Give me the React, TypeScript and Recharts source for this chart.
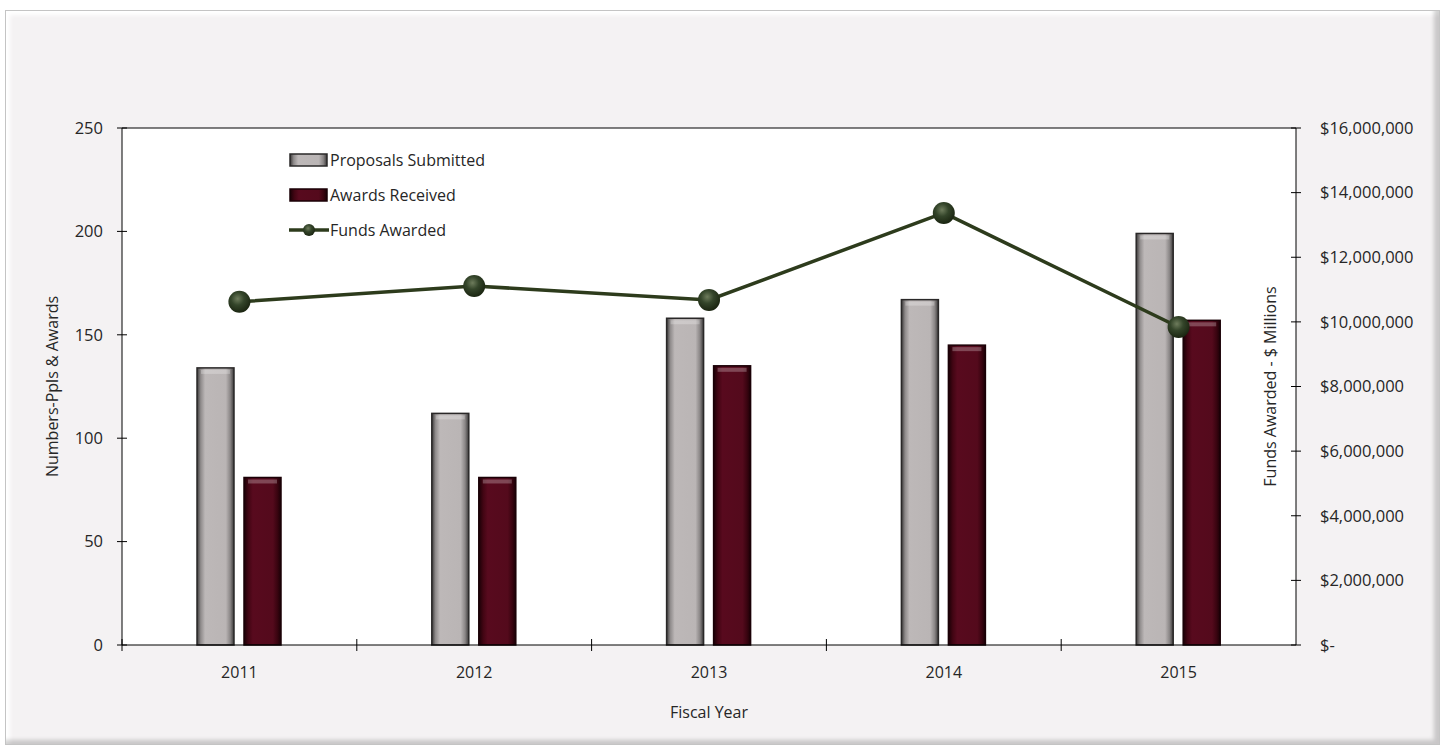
import { ComposedChart, Bar, Line, XAxis, YAxis, CartesianGrid, Legend, ReferenceLine, Label } from 'recharts'

const years = ['2011', '2012', '2013', '2014', '2015']
const proposals = [134, 112, 158, 167, 199]
const awards = [81, 81, 135, 145, 157]
const funds = [10620000, 11110000, 10680000, 13370000, 9840000]
const leftTicks = [0, 50, 100, 150, 200, 250]
const rightTicks = [0, 2000000, 4000000, 6000000, 8000000, 10000000, 12000000, 14000000, 16000000]

const data = years.map((year, i) => ({ year, proposals: proposals[i], awards: awards[i], funds: funds[i] }))

const FONT = '"Open Sans", "Noto Sans", sans-serif'
const TXT = '#262626'
const LINE_COLOR = '#2d3b1c'
const FS = 16

const money = (v: number) => (v === 0 ? '$-' : '$' + v.toLocaleString('en-US'))

const LeftTick = (p: any) => (
  <g>
    <line x1={p.x - 5} x2={p.x + 5} y1={p.y} y2={p.y} stroke="#000" />
    <text x={p.x - 19} y={p.y} dy="0.35em" textAnchor="end" fontFamily={FONT} fontSize={16.5} fill={TXT}>{p.payload.value}</text>
  </g>
)

const RightTick = (p: any) => (
  <g>
    <line x1={p.x - 5} x2={p.x + 5} y1={p.y} y2={p.y} stroke="#000" />
    <text x={p.x + 24} y={p.y} dy="0.35em" textAnchor="start" fontFamily={FONT} fontSize={16.5} fill={TXT}>{money(p.payload.value)}</text>
  </g>
)

const XTick = (p: any) => {
  const edge = p.x - (p.payload.offset || 0)
  return (
    <g>
      <line x1={edge} x2={edge} y1={p.y - 6} y2={p.y + 6} stroke="#000" />
      <text x={p.x} y={p.y + 27} dy="0.35em" textAnchor="middle" fontFamily={FONT} fontSize={FS} fill={TXT}>{p.payload.value}</text>
    </g>
  )
}

const BevelBar = (p: any) => {
  const { x, y, width, height, gradId, edge } = p
  if (!height || height <= 0) return null
  return (
    <g>
      <rect x={x} y={y} width={width} height={height} fill={`url(#${gradId})`} stroke={edge} strokeWidth={1.5} />
      <rect x={x + 4} y={y + 2} width={width - 8} height={4} fill="#fff" opacity={0.25} />
    </g>
  )
}

const legendItems = [
  { name: 'Proposals Submitted', kind: 'bar', fill: 'url(#gGray)', edge: '#2a2828' },
  { name: 'Awards Received', kind: 'bar', fill: 'url(#gRed)', edge: '#1a0006' },
  { name: 'Funds Awarded', kind: 'line', fill: 'url(#gDot)', edge: LINE_COLOR },
]

const ChartLegend = () => (
  <div style={{ fontFamily: FONT, fontSize: FS, color: TXT }}>
    {legendItems.map((it) => (
      <div key={it.name} style={{ display: 'flex', alignItems: 'center', height: 35 }}>
        <svg width={40} height={20} style={{ marginRight: 1 }}>
          {it.kind === 'bar' ? (
            <rect x={1} y={4} width={37} height={12} fill={it.fill} stroke={it.edge} strokeWidth={1.5} />
          ) : (
            <g>
              <line x1={0} x2={40} y1={10} y2={10} stroke={LINE_COLOR} strokeWidth={3.5} />
              <circle cx={20} cy={10} r={6} fill={it.fill} />
            </g>
          )}
        </svg>
        <span>{it.name}</span>
      </div>
    ))}
  </div>
)

export default function App() {
  return (
    <div style={{ position: 'absolute', left: 0, top: 0, width: 1445, height: 751 }}>
      <div
        style={{
          position: 'absolute', left: 5, top: 10, width: 1435, height: 735, boxSizing: 'border-box',
          background: '#f4f2f3', border: '1px solid #c4c4c4',
          boxShadow: 'inset -5px -4px 4px rgba(0,0,0,0.18), inset 4px 4px 4px #ffffff',
        }}
      />
      <div style={{ position: 'absolute', left: 0, top: 0 }}>
        <ComposedChart width={1445} height={751} data={data} margin={{ top: 128, right: 0, bottom: 0, left: 0 }} barSize={37} barGap={10}>
          <defs>
            <linearGradient id="gGray" x1="0" y1="0" x2="1" y2="0">
              <stop offset="0%" stopColor="#3a3838" />
              <stop offset="10%" stopColor="#8f8b8b" />
              <stop offset="22%" stopColor="#bdb8b8" />
              <stop offset="78%" stopColor="#bab5b5" />
              <stop offset="90%" stopColor="#8a8686" />
              <stop offset="100%" stopColor="#3a3838" />
            </linearGradient>
            <linearGradient id="gRed" x1="0" y1="0" x2="1" y2="0">
              <stop offset="0%" stopColor="#1a0006" />
              <stop offset="12%" stopColor="#420513" />
              <stop offset="24%" stopColor="#580a1e" />
              <stop offset="78%" stopColor="#540a1c" />
              <stop offset="90%" stopColor="#3a0410" />
              <stop offset="100%" stopColor="#1a0006" />
            </linearGradient>
            <radialGradient id="gDot" cx="42%" cy="36%" r="65%">
              <stop offset="0%" stopColor="#6e7c5c" />
              <stop offset="45%" stopColor="#34452a" />
              <stop offset="100%" stopColor="#1a2410" />
            </radialGradient>
          </defs>
          <CartesianGrid yAxisId="left" fill="#ffffff" horizontal={false} vertical={false} />
          <XAxis dataKey="year" height={106} tickSize={0} tickMargin={0} axisLine={{ stroke: '#000' }} tick={<XTick />} interval={0}>
            <Label
              content={(p: any) => (
                <text x={p.viewBox.x + p.viewBox.width / 2} y={p.viewBox.y + 67} dy="0.35em" textAnchor="middle" fontFamily={FONT} fontSize={FS} fill={TXT}>Fiscal Year</text>
              )}
            />
          </XAxis>
          <YAxis yAxisId="left" width={122} domain={[0, 250]} ticks={leftTicks} tickSize={0} tickMargin={0} axisLine={{ stroke: '#000' }} tick={<LeftTick />} interval={0}>
            <Label
              content={(p: any) => {
                const cx = p.viewBox.x + 52
                const cy = p.viewBox.y + p.viewBox.height / 2
                return <text x={cx} y={cy} dy="0.35em" transform={`rotate(-90 ${cx} ${cy})`} textAnchor="middle" fontFamily={FONT} fontSize={FS} fill={TXT}>Numbers-Ppls &amp; Awards</text>
              }}
            />
          </YAxis>
          <YAxis yAxisId="right" orientation="right" width={149} domain={[0, 16000000]} ticks={rightTicks} tickSize={0} tickMargin={0} axisLine={{ stroke: '#000' }} tick={<RightTick />} interval={0}>
            <Label
              content={(p: any) => {
                const cx = p.viewBox.x - 26
                const cy = p.viewBox.y + p.viewBox.height / 2
                return <text x={cx} y={cy} dy="0.35em" transform={`rotate(-90 ${cx} ${cy})`} textAnchor="middle" fontFamily={FONT} fontSize={FS} fill={TXT}>Funds Awarded - $ Millions</text>
              }}
            />
          </YAxis>
          <ReferenceLine yAxisId="left" y={250} stroke="#000" />
          <Bar yAxisId="left" dataKey="proposals" name="Proposals Submitted" isAnimationActive={false} shape={(p: any) => <BevelBar {...p} gradId="gGray" edge="#2a2828" />} />
          <Bar yAxisId="left" dataKey="awards" name="Awards Received" isAnimationActive={false} shape={(p: any) => <BevelBar {...p} gradId="gRed" edge="#1a0006" />} />
          <Line yAxisId="right" dataKey="funds" name="Funds Awarded" type="linear" stroke={LINE_COLOR} strokeWidth={3.5} dot={{ r: 11, fill: 'url(#gDot)', stroke: 'none' }} activeDot={false} isAnimationActive={false} />
          <Legend layout="horizontal" align="center" verticalAlign="middle" content={<ChartLegend />} wrapperStyle={{ left: 289, top: 142, width: 'auto' }} />
        </ComposedChart>
      </div>
    </div>
  )
}
